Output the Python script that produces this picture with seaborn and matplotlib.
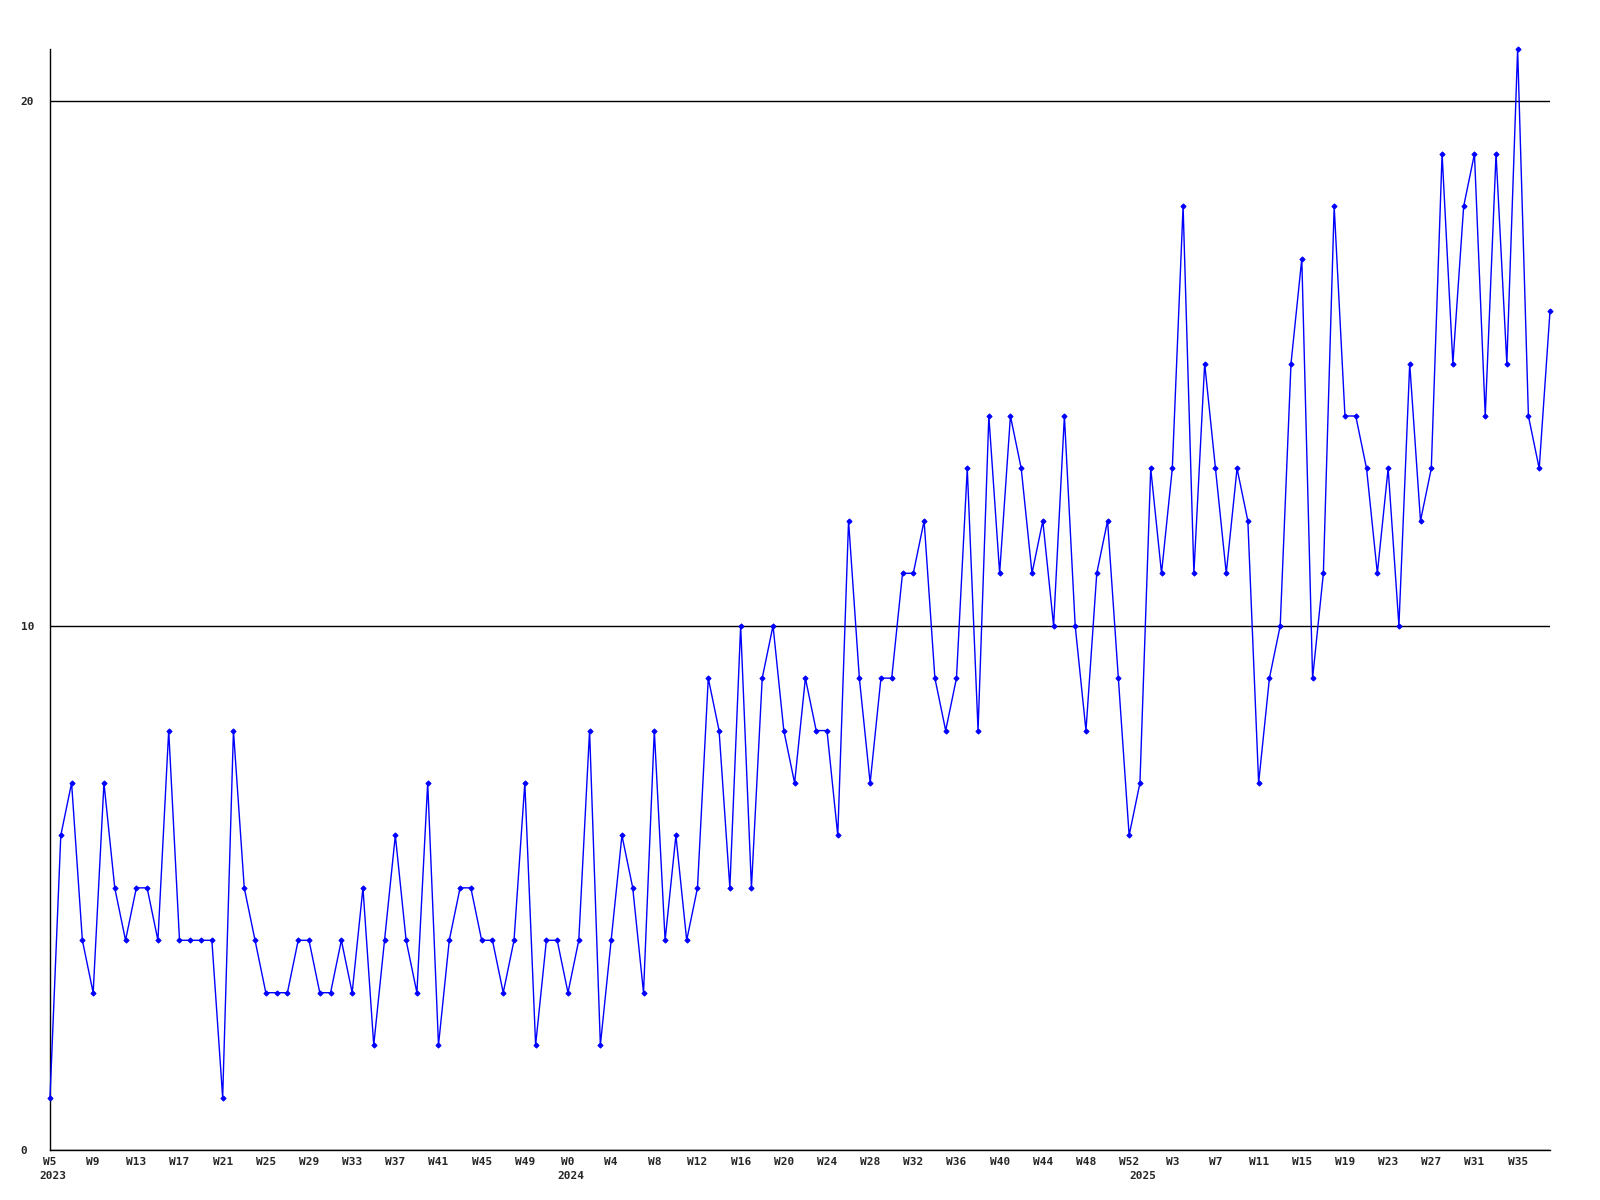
import numpy as np
import pandas as pd
import matplotlib
matplotlib.use("Agg")
import matplotlib.pyplot as plt
import seaborn as sns

# weekly counts, 2023 W5 .. 2025 W38
counts_2023 = [1, 6, 7, 4, 3, 7, 5, 4, 5, 5, 4, 8, 4, 4, 4, 4, 1, 8, 5, 4,
               3, 3, 3, 4, 4, 3, 3, 4, 3, 5, 2, 4, 6, 4, 3, 7, 2, 4, 5, 5,
               4, 4, 3, 4, 7, 2, 4, 4]
counts_2024 = [3, 4, 8, 2, 4, 6, 5, 3, 8, 4, 6, 4, 5, 9, 8, 5, 10, 5, 9, 10,
               8, 7, 9, 8, 8, 6, 12, 9, 7, 9, 9, 11, 11, 12, 9, 8, 9, 13, 8, 14,
               11, 14, 13, 11, 12, 10, 14, 10, 8, 11, 12, 9, 6]
counts_2025 = [7, 13, 11, 13, 18, 11, 15, 13, 11, 13, 12, 7, 9, 10, 15, 17, 9, 11, 18, 14,
               14, 13, 11, 13, 10, 15, 12, 13, 19, 15, 18, 19, 14, 19, 15, 21, 14, 13, 16]

week_ranges = {2023: range(5, 53), 2024: range(0, 53), 2025: range(0, 39)}

weeks, years = [], []
for yr, rng in week_ranges.items():
    for w in rng:
        weeks.append(f"W{w}")
        years.append(yr)

df = pd.DataFrame({
    "pos": np.arange(len(weeks)),
    "week": weeks,
    "year": years,
    "count": counts_2023 + counts_2024 + counts_2025,
})

sns.set_style("white")
plt.rcParams["font.family"] = ["DejaVu Sans Mono", "DejaVu Sans"]

fig = plt.figure(figsize=(16, 12), dpi=100)
ax = fig.add_axes([0.03125, 0.04167, 0.9375, 0.9175])

sns.lineplot(data=df, x="pos", y="count", ax=ax, color="#0000ff",
             linewidth=1.0, marker="D", markersize=2.6,
             markeredgecolor="#0000ff", markerfacecolor="#0000ff",
             clip_on=False, zorder=3)

ax.set_xlim(0, len(df) - 1)
ax.set_ylim(0, df["count"].max())
ax.set_yticks([0, 10, 20])
ax.set_yticklabels(["0", "10", "20"], fontsize=8, fontweight="bold")
for lab in ax.get_yticklabels():
    lab.set_horizontalalignment("left")
ax.tick_params(axis="y", length=0, pad=21)

tick_pos = df["pos"][::4]
ax.set_xticks(tick_pos)
ax.set_xticklabels(df["week"][::4], fontsize=8, fontweight="bold")
ax.tick_params(axis="x", length=0, pad=5)

ax.grid(axis="y", color="black", linewidth=1)
ax.grid(axis="x", visible=False)
for side in ["top", "right"]:
    ax.spines[side].set_visible(False)
for side in ["left", "bottom"]:
    ax.spines[side].set_color("black")
    ax.spines[side].set_linewidth(1)

ax.set_xlabel("")
ax.set_ylabel("")

# year labels under the first week of each year
firsts = df.groupby("year")["pos"].min()
for yr, p in firsts.items():
    ax.text(p - 1.0, -0.019, str(yr), transform=ax.get_xaxis_transform(),
            ha="left", va="top", fontsize=8, fontweight="bold")

fig.savefig("out.png", dpi=100)
